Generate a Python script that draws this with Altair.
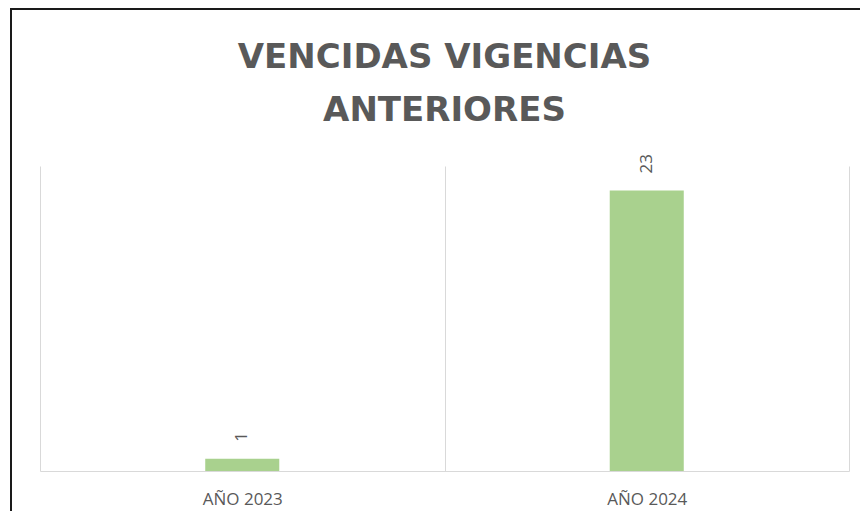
import altair as alt
import pandas as pd

categories = ["AÑO 2023", "AÑO 2024"]
values = [1, 23]
title_lines = ["VENCIDAS VIGENCIAS", "ANTERIORES"]

df = pd.DataFrame({"cat": categories, "val": values})

W, H = 809, 305

x_enc = alt.X(
    "cat:N",
    sort=categories,
    scale=alt.Scale(paddingInner=0, paddingOuter=0),
    axis=alt.Axis(
        title=None,
        labelAngle=0,
        labelFont="Open Sans",
        labelFontSize=17,
        labelColor="#595959",
        labelPadding=20,
        ticks=False,
        domainColor="#d9d9d9",
        domainWidth=1,
        grid=True,
        gridColor="#d9d9d9",
        gridWidth=1,
        tickBand="extent",
    ),
)
y_enc = alt.Y("val:Q", scale=alt.Scale(domain=[0, 25]), axis=None)

base = alt.Chart(df).encode(x=x_enc, y=y_enc)

bars = base.mark_bar(color="#A9D18E", width=alt.RelativeBandSize(0.183))
labels = base.mark_text(
    angle=270,
    align="left",
    baseline="middle",
    dx=17,
    font="Open Sans",
    fontSize=17,
    color="#595959",
).encode(text="val:Q")

frame = alt.Chart(pd.DataFrame({"k": [0]})).mark_rect(
    fill=None, stroke="#1a1a1a", strokeWidth=2
).encode(
    x=alt.value(-29),
    x2=alt.value(W + 100),
    y=alt.value(-157),
    y2=alt.value(H + 200),
)

chart = (
    alt.layer(bars, labels, frame)
    .properties(
        width=W,
        height=H,
        autosize=alt.AutoSizeParams(type="none"),
        padding={"left": 32, "top": 158, "right": 11, "bottom": 40},
        title=alt.TitleParams(
            text=title_lines,
            font="DejaVu Sans",
            fontSize=34,
            fontWeight="bold",
            color="#595959",
            lineHeight=53,
            anchor="middle",
            offset=-120,
        ),
    )
    .configure_view(stroke=None)
)

chart.save("out.html", embed_options={"renderer": "svg", "actions": False})
